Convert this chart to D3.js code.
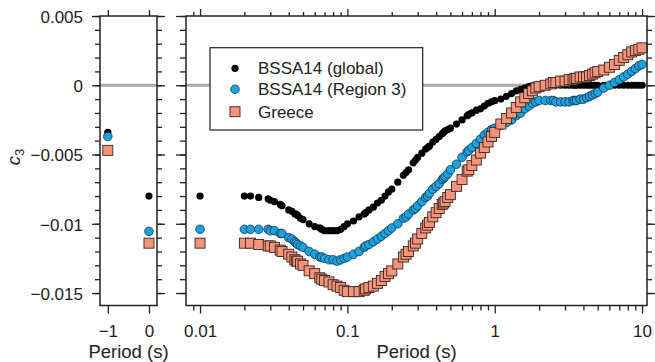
<!DOCTYPE html>
<html>
  <head>
    <meta charset="utf-8"/>
    <script type="text/javascript" src="https://cdnjs.cloudflare.com/ajax/libs/d3/7.8.5/d3.min.js"></script>
    <style type="text/css">

html, body {
  margin: 0;
  padding: 0;
  background: #fff;
}

svg {
  font-family: "Liberation Sans", Arial, Helvetica, sans-serif;
}

.axis .domain {
  display: none;
}

.axis line {
  stroke: #222;
  stroke-width: 1.3px;
}

.axis text {
  font-size: 17px;
  fill: #222;
}

.frame {
  fill: none;
  stroke: #222;
  stroke-width: 1.5px;
}

.zero {
  stroke: #aaa;
  stroke-width: 3px;
}

    </style>
  </head>
  <body>
    <svg id="chart" width="655" height="362"></svg>
    <script type="text/javascript">

// Spectral periods (s) of the right panel
var periods = [
  0.01, 0.02, 0.022, 0.025, 0.029, 0.03, 0.032, 0.035, 0.036, 0.04,
  0.042, 0.044, 0.045, 0.046, 0.048, 0.05, 0.055, 0.06, 0.065, 0.067,
  0.07, 0.075, 0.08, 0.085, 0.09, 0.095, 0.1, 0.11, 0.12, 0.13,
  0.133, 0.14, 0.15, 0.16, 0.17, 0.18, 0.19, 0.2, 0.22, 0.24,
  0.25, 0.26, 0.28, 0.29, 0.3, 0.32, 0.34, 0.35, 0.36, 0.38,
  0.4, 0.42, 0.44, 0.45, 0.46, 0.48, 0.5, 0.55, 0.6, 0.65,
  0.667, 0.7, 0.75, 0.8, 0.85, 0.9, 0.95, 1, 1.1, 1.2,
  1.3, 1.4, 1.5, 1.6, 1.7, 1.8, 1.9, 2, 2.2, 2.4,
  2.5, 2.6, 2.8, 3, 3.2, 3.4, 3.5, 3.6, 3.8, 4,
  4.2, 4.4, 4.6, 4.8, 5, 5.5, 6, 6.5, 7, 7.5,
  8, 8.5, 9, 9.5, 10
];

var globalC3 = [
  -0.0080, -0.0080, -0.0080, -0.0081, -0.0082, -0.0083, -0.0084, -0.0086, -0.0087, -0.0090,
  -0.0091, -0.0093, -0.0093, -0.0094, -0.0096, -0.0097, -0.0100, -0.0102, -0.0103, -0.0104,
  -0.0105, -0.0105, -0.0105, -0.0105, -0.0104, -0.0102, -0.0100, -0.0098, -0.0095, -0.0093,
  -0.0092, -0.0090, -0.0088, -0.0085, -0.0083, -0.0080, -0.0077, -0.0075, -0.0070, -0.0065,
  -0.0063, -0.0061, -0.0056, -0.0054, -0.0052, -0.0049, -0.0046, -0.0045, -0.0044, -0.0041,
  -0.0039, -0.0037, -0.0035, -0.0034, -0.0033, -0.0032, -0.0031, -0.0028, -0.0025, -0.0022,
  -0.0021, -0.0020, -0.0018, -0.0017, -0.0015, -0.0013, -0.0012, -0.0011, -0.0010, -0.0008,
  -0.0006, -0.0004, -0.0003, -0.0002, -0.0001, -0.00005, 0, 0, 0, 0,
  0, 0, 0, 0, 0, 0, 0, 0, 0, 0,
  0, 0, 0, 0, 0, 0, 0, 0, 0, 0,
  0, 0, 0, 0, 0
];

var region3C3 = [
  -0.0104, -0.0104, -0.0104, -0.0104, -0.0104, -0.0105, -0.0105, -0.0107, -0.0107, -0.0110,
  -0.0111, -0.0113, -0.0114, -0.0115, -0.0116, -0.0117, -0.0120, -0.0122, -0.0124, -0.0124,
  -0.0125, -0.0126, -0.0126, -0.0127, -0.0126, -0.0125, -0.0124, -0.0122, -0.0120, -0.0117,
  -0.0116, -0.0115, -0.0113, -0.0111, -0.0109, -0.0107, -0.0105, -0.0103, -0.0100, -0.0096,
  -0.0095, -0.0093, -0.0090, -0.0089, -0.0087, -0.0084, -0.0081, -0.0080, -0.0078, -0.0075,
  -0.0073, -0.0071, -0.0068, -0.0067, -0.0066, -0.0064, -0.0061, -0.0057, -0.0052, -0.0048,
  -0.0047, -0.0045, -0.0042, -0.0039, -0.0036, -0.0034, -0.0032, -0.0031, -0.0029, -0.0027,
  -0.0025, -0.0022, -0.0020, -0.0017, -0.0015, -0.0013, -0.0012, -0.0011, -0.0011, -0.0011,
  -0.0011, -0.0012, -0.0012, -0.0012, -0.0012, -0.0011, -0.0011, -0.0011, -0.0010, -0.0010,
  -0.0009, -0.0008, -0.0007, -0.0006, -0.0005, -0.0002, 0.0000, 0.0002, 0.0004, 0.0006,
  0.0008, 0.0010, 0.0012, 0.0014, 0.0015
];

var greeceC3 = [
  -0.0114, -0.0114, -0.0114, -0.0115, -0.0116, -0.0116, -0.0117, -0.0119, -0.0120, -0.0122,
  -0.0124, -0.0126, -0.0127, -0.0127, -0.0129, -0.0130, -0.0134, -0.0136, -0.0139, -0.0140,
  -0.0141, -0.0142, -0.0144, -0.0145, -0.0146, -0.0148, -0.0149, -0.0149, -0.0149, -0.0148,
  -0.0147, -0.0146, -0.0145, -0.0143, -0.0141, -0.0138, -0.0136, -0.0134, -0.0129, -0.0124,
  -0.0122, -0.0120, -0.0116, -0.0114, -0.0111, -0.0107, -0.0103, -0.0101, -0.0099, -0.0095,
  -0.0092, -0.0089, -0.0086, -0.0085, -0.0084, -0.0081, -0.0079, -0.0073, -0.0068, -0.0062,
  -0.0061, -0.0058, -0.0054, -0.0049, -0.0045, -0.0041, -0.0037, -0.0034, -0.0028, -0.0024,
  -0.0020, -0.0016, -0.0012, -0.0009, -0.0006, -0.0004, -0.0002, -0.0001, 0.0000, 0.0001,
  0.0002, 0.0002, 0.0003, 0.0003, 0.0004, 0.0004, 0.0005, 0.0005, 0.0006, 0.0006,
  0.0006, 0.0007, 0.0008, 0.0009, 0.0010, 0.0011, 0.0013, 0.0015, 0.0018, 0.0020,
  0.0022, 0.0024, 0.0025, 0.0026, 0.0027
];

// Left panel: PGV (-1) and PGA (0)
var pgvPga = [-1, 0];
var globalPgvPga = [-0.0034, -0.0080];
var region3PgvPga = [-0.0037, -0.01055];
var greecePgvPga = [-0.0047, -0.0114];

var seriesNames = ["BSSA14 (global)", "BSSA14 (Region 3)", "Greece"];

var yTicks = [0.005, 0, -0.005, -0.01, -0.015];
var xLeftTicks = [-1, 0];
var xRightTicks = [0.01, 0.1, 1, 10];
var xRightLabels = ["0.01", "0.1", "1", "10"];

var svg = d3.select("#chart");

var yTop = 16, yBot = 305.5;

var y = d3.scaleLinear().domain([-0.0159, 0.005]).range([yBot, yTop]);
var xL = d3.scaleLinear().domain([-1.19, 0.195]).range([100, 157]);
var xR = d3.scaleLog().domain([0.00803, 10.8]).range([186, 647]);

function fmtY(v) {
  if (v === 0) return "0";
  return (v < 0 ? "\u2212" : "") + Math.abs(v);
}

// minor ticks
var yMinor = d3.range(-15, 6).map(function(i) { return i / 1000; });
var xMinor = [];
[0.001, 0.01, 0.1, 1].forEach(function(d) {
  for (var k = 2; k <= 9; k++) {
    var v = d * k;
    if (v >= 0.00803 && v <= 10.8) xMinor.push(v);
  }
});

// grey zero lines
svg.append("line").attr("class", "zero")
    .attr("x1", xL.range()[0]).attr("x2", xL.range()[1])
    .attr("y1", y(0)).attr("y2", y(0));
svg.append("line").attr("class", "zero")
    .attr("x1", xR.range()[0]).attr("x2", xR.range()[1])
    .attr("y1", y(0)).attr("y2", y(0));

// draw one series of markers
function drawCircles(xs, ys, xScale, r, fill, stroke) {
  svg.append("g").selectAll("circle")
      .data(xs)
    .enter().append("circle")
      .attr("cx", function(d) { return xScale(d); })
      .attr("cy", function(d, i) { return y(ys[i]); })
      .attr("r", r)
      .style("fill", fill)
      .style("stroke", stroke)
      .style("stroke-width", stroke === "none" ? 0 : 0.8);
}

function drawSquares(xs, ys, xScale, s) {
  svg.append("g").selectAll("rect")
      .data(xs)
    .enter().append("rect")
      .attr("x", function(d) { return xScale(d) - s / 2; })
      .attr("y", function(d, i) { return y(ys[i]) - s / 2; })
      .attr("width", s)
      .attr("height", s)
      .style("fill", "#f4957b")
      .style("stroke", "#3b2620")
      .style("stroke-width", 0.9);
}

var blue = "#1ba3de", blueEdge = "#13314a";

drawCircles(pgvPga, globalPgvPga, xL, 3.6, "#000", "none");
drawCircles(pgvPga, region3PgvPga, xL, 4.3, blue, blueEdge);
drawSquares(pgvPga, greecePgvPga, xL, 10);

drawCircles(periods, globalC3, xR, 3.6, "#000", "none");
drawCircles(periods, region3C3, xR, 4.3, blue, blueEdge);
drawSquares(periods, greeceC3, xR, 10);

// axes of the left panel
svg.append("g").attr("class", "axis")
    .attr("transform", "translate(" + xL.range()[0] + ",0)")
    .call(d3.axisLeft(y).tickValues(yMinor).tickSize(5).tickFormat(""));
svg.append("g").attr("class", "axis")
    .attr("transform", "translate(" + xL.range()[0] + ",0)")
    .call(d3.axisLeft(y).tickValues(yTicks).tickSize(8).tickPadding(9).tickFormat(fmtY))
  .selectAll("text").attr("dy", "0.38em");
svg.append("g").attr("class", "axis")
    .attr("transform", "translate(" + xL.range()[1] + ",0)")
    .call(d3.axisRight(y).tickValues(yMinor).tickSize(5).tickFormat(""));
svg.append("g").attr("class", "axis")
    .attr("transform", "translate(" + xL.range()[1] + ",0)")
    .call(d3.axisRight(y).tickValues(yTicks).tickSize(8).tickFormat(""));
svg.append("g").attr("class", "axis")
    .attr("transform", "translate(0," + yBot + ")")
    .call(d3.axisBottom(xL).tickValues(xLeftTicks).tickSize(8)
      .tickFormat(function(d) { return d < 0 ? "\u2212" + Math.abs(d) : d; }))
  .selectAll("text").attr("y", 19.5);
svg.append("g").attr("class", "axis")
    .attr("transform", "translate(0," + yTop + ")")
    .call(d3.axisTop(xL).tickValues(xLeftTicks).tickSize(6).tickFormat(""));

// axes of the right panel
svg.append("g").attr("class", "axis")
    .attr("transform", "translate(" + xR.range()[0] + ",0)")
    .call(d3.axisLeft(y).tickValues(yMinor).tickSize(6).tickFormat(""));
svg.append("g").attr("class", "axis")
    .attr("transform", "translate(" + xR.range()[0] + ",0)")
    .call(d3.axisLeft(y).tickValues(yTicks).tickSize(10).tickFormat(""));
svg.append("g").attr("class", "axis")
    .attr("transform", "translate(" + xR.range()[1] + ",0)")
    .call(d3.axisRight(y).tickValues(yMinor).tickSize(5).tickFormat(""));
svg.append("g").attr("class", "axis")
    .attr("transform", "translate(" + xR.range()[1] + ",0)")
    .call(d3.axisRight(y).tickValues(yTicks).tickSize(8).tickFormat(""));
svg.append("g").attr("class", "axis")
    .attr("transform", "translate(0," + yBot + ")")
    .call(d3.axisBottom(xR).tickValues(xMinor).tickSize(5).tickFormat(""));
svg.append("g").attr("class", "axis")
    .attr("transform", "translate(0," + yBot + ")")
    .call(d3.axisBottom(xR).tickValues(xRightTicks).tickSize(8)
      .tickFormat(function(d, i) { return xRightLabels[i]; }))
  .selectAll("text").attr("y", 19.5);
svg.append("g").attr("class", "axis")
    .attr("transform", "translate(0," + yTop + ")")
    .call(d3.axisTop(xR).tickValues(xMinor).tickSize(4).tickFormat(""));
svg.append("g").attr("class", "axis")
    .attr("transform", "translate(0," + yTop + ")")
    .call(d3.axisTop(xR).tickValues(xRightTicks).tickSize(7).tickFormat(""));

// frames
svg.append("rect").attr("class", "frame")
    .attr("x", xL.range()[0]).attr("y", yTop)
    .attr("width", xL.range()[1] - xL.range()[0]).attr("height", yBot - yTop);
svg.append("rect").attr("class", "frame")
    .attr("x", xR.range()[0]).attr("y", yTop)
    .attr("width", xR.range()[1] - xR.range()[0]).attr("height", yBot - yTop);

// axis titles
svg.append("text")
    .attr("x", (xL.range()[0] + xL.range()[1]) / 2).attr("y", 358)
    .attr("text-anchor", "middle")
    .style("font-size", "18.5px").style("fill", "#222")
    .text("Period (s)");
svg.append("text")
    .attr("x", (xR.range()[0] + xR.range()[1]) / 2).attr("y", 358)
    .attr("text-anchor", "middle")
    .style("font-size", "18.5px").style("fill", "#222")
    .text("Period (s)");

var ylab = svg.append("text")
    .attr("transform", "translate(20,157) rotate(-90)")
    .attr("text-anchor", "middle")
    .style("font-size", "18.5px").style("fill", "#222");
ylab.append("tspan").style("font-style", "italic").text("c");
ylab.append("tspan").attr("dy", 4).style("font-size", "13px").text("3");

// legend
var legend = svg.append("g");
legend.append("rect")
    .attr("x", 210).attr("y", 47.7).attr("width", 212.7).attr("height", 82.3)
    .style("fill", "#fff").style("stroke", "#222").style("stroke-width", 1.2);

var legY = [68.3, 89.3, 111.7];
legend.append("circle").attr("cx", 235).attr("cy", legY[0]).attr("r", 3.6).style("fill", "#000");
legend.append("circle").attr("cx", 235).attr("cy", legY[1]).attr("r", 4.3)
    .style("fill", blue).style("stroke", blueEdge).style("stroke-width", 0.8);
legend.append("rect").attr("x", 230).attr("y", legY[2] - 5).attr("width", 10).attr("height", 10)
    .style("fill", "#f4957b").style("stroke", "#3b2620").style("stroke-width", 0.9);

legend.selectAll("text.leg")
    .data(seriesNames)
  .enter().append("text")
    .attr("class", "leg")
    .attr("x", 258)
    .attr("y", function(d, i) { return legY[i] + 6; })
    .style("font-size", "17px").style("fill", "#222")
    .text(function(d) { return d; });

    </script>
  </body>
</html>
